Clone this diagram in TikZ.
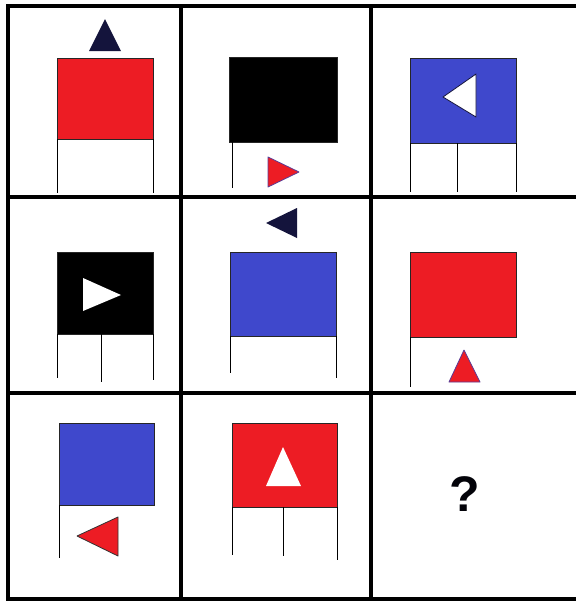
\documentclass[tikz,border=0pt]{standalone}
\usepackage{fontspec}
\setmainfont{Liberation Sans}
\definecolor{flagred}{HTML}{ED1C24}
\definecolor{flagblue}{HTML}{3F48CC}
\definecolor{navy}{HTML}{14143C}
\definecolor{edgepurple}{HTML}{5B3C96}
\begin{document}
\begin{tikzpicture}[x=1pt,y=-1pt,
  cell/.style={line width=4pt},
  sheet/.style={draw=black!85,line width=0.8pt},
  leg/.style={line width=1pt},
  tri/.style={line width=0.8pt,line join=round}]
 \useasboundingbox (0,0) rectangle (576,603);
 \fill[white] (0,0) rectangle (576,603);
 % grid
 \foreach \y in {6,197,393,599}
   \draw[cell] (6,\y) -- (576,\y);
 \foreach \x in {8,181,371}
   \draw[cell] (\x,4) -- (\x,601);
 % row 1
 \draw[sheet,fill=flagred] (57,58) rectangle (153,139);
 \draw[leg] (57,139) -- (57,193) (153,139) -- (153,193);
 \fill[navy] (89,51) -- (105,19) -- (121,51) -- cycle;
 \draw[sheet,fill=black] (229,57) rectangle (337,142);
 \draw[leg] (232,142) -- (232,188);
 \draw[tri,draw=edgepurple,fill=flagred] (268,157) -- (299,172) -- (268,187) -- cycle;
 \draw[sheet,fill=flagblue] (410,58) rectangle (516,143);
 \draw[leg] (410,143) -- (410,192) (457,143) -- (457,192) (516,143) -- (516,192);
 \draw[tri,draw=navy,fill=white] (476,74) -- (443,97) -- (476,117) -- cycle;
 % row 2
 \draw[sheet,fill=black] (57,252) rectangle (153,334);
 \draw[leg] (57,334) -- (57,378) (101,334) -- (101,382) (153,334) -- (153,380);
 \fill[white] (83,278) -- (121,295) -- (83,311) -- cycle;
 \draw[sheet,fill=flagblue] (230,252) rectangle (336,336);
 \draw[leg] (230,336) -- (230,373) (336,336) -- (336,378);
 \fill[navy] (297,208) -- (266,223) -- (297,238) -- cycle;
 \draw[sheet,fill=flagred] (410,252) rectangle (516,337);
 \draw[leg] (410,337) -- (410,387);
 \draw[tri,draw=edgepurple,fill=flagred] (449,382) -- (464,350) -- (480,382) -- cycle;
 % row 3
 \draw[sheet,fill=flagblue] (59,423) rectangle (154,505);
 \draw[leg] (59,505) -- (59,558);
 \draw[tri,draw=black!80,fill=flagred] (118,517) -- (77,536) -- (118,556) -- cycle;
 \draw[sheet,fill=flagred] (232,423) rectangle (337,507);
 \draw[leg] (232,507) -- (232,555) (283,507) -- (283,556) (337,507) -- (337,560);
 \fill[white] (266,486) -- (283,447) -- (301,486) -- cycle;
 \node[font=\bfseries\fontsize{50}{50}\selectfont,text=black!85!navy] (query) at (465,494) {?};
\end{tikzpicture}
\end{document}
